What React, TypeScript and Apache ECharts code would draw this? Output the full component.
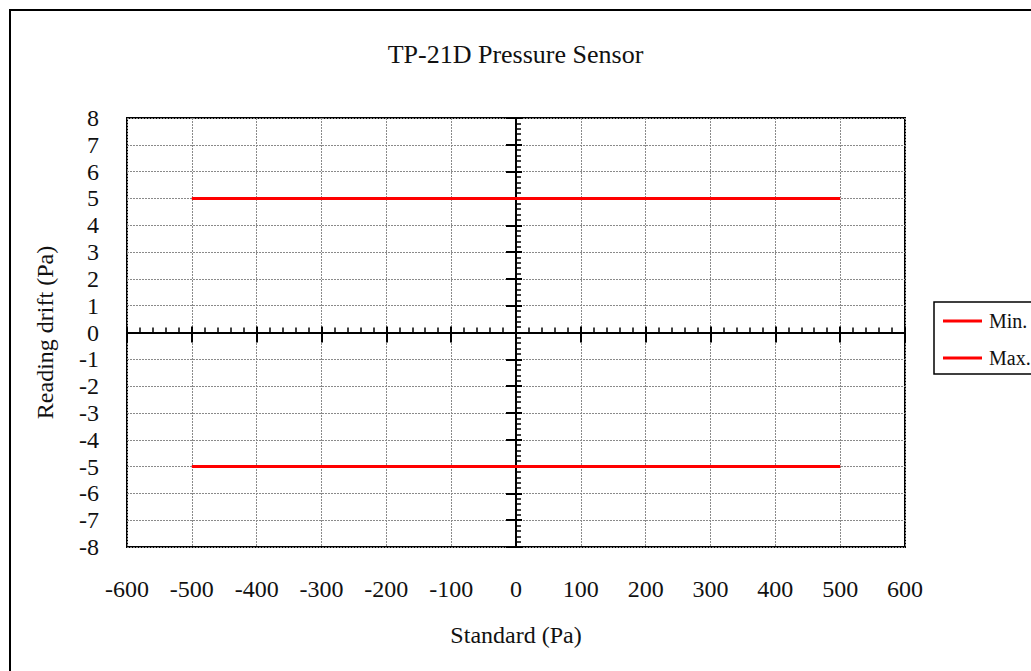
import React, { useEffect, useRef } from "react";
import * as echarts from "echarts";

// ---- data ----
const standardPa = [-500, -400, -300, -200, -100, 0, 100, 200, 300, 400, 500];
const minDrift = [-5, -5, -5, -5, -5, -5, -5, -5, -5, -5, -5];
const maxDrift = [5, 5, 5, 5, 5, 5, 5, 5, 5, 5, 5];
const seriesNames = ["Min.", "Max."];
const xRange = { min: -600, max: 600, step: 100 };
const yRange = { min: -8, max: 8, step: 1 };
const titleText = "TP-21D Pressure Sensor";
const xName = "Standard (Pa)";
const yName = "Reading drift (Pa)";

const FONT = "'Liberation Serif', 'Times New Roman', serif";
const TXT = "#111";

function buildOption() {
  const gridLine = { show: true, lineStyle: { color: "#8a8a8a", width: 1, type: [2, 1] as any } };
  const baseX = { type: "value", min: xRange.min, max: xRange.max, interval: xRange.step, gridIndex: 0 };
  const baseY = { type: "value", min: yRange.min, max: yRange.max, interval: yRange.step, gridIndex: 0 };
  const hidden = { show: false };

  const xAxes: any[] = [
    {
      ...baseX,
      position: "bottom",
      axisLine: { show: false, onZero: false },
      axisTick: hidden,
      splitLine: gridLine,
      axisLabel: { margin: 30, fontFamily: FONT, fontSize: 24, color: TXT },
      name: xName,
      nameLocation: "middle",
      nameGap: 76,
      nameTextStyle: { fontFamily: FONT, fontSize: 24, color: TXT },
    },
    {
      ...baseX,
      position: "bottom",
      axisLine: { show: true, onZero: true, onZeroAxisIndex: 0, lineStyle: { color: "#000", width: 2 } },
      axisTick: { show: true, inside: true, length: 6, lineStyle: { color: "#000", width: 2 } },
      minorTick: { show: true, splitNumber: 5, length: 5, lineStyle: { color: "#000", width: 1.5 } },
      axisLabel: hidden,
      splitLine: hidden,
    },
    {
      ...baseX,
      position: "bottom",
      axisLine: { show: false, onZero: true, onZeroAxisIndex: 0 },
      axisTick: { show: true, inside: false, length: 10, lineStyle: { color: "#000", width: 2 } },
      axisLabel: hidden,
      splitLine: hidden,
    },
  ];

  const yAxes: any[] = [
    {
      ...baseY,
      position: "left",
      axisLine: { show: false, onZero: false },
      axisTick: hidden,
      splitLine: gridLine,
      axisLabel: { margin: 28, fontFamily: FONT, fontSize: 24, color: TXT },
      name: yName,
      nameLocation: "middle",
      nameGap: 70,
      nameTextStyle: { fontFamily: FONT, fontSize: 24, color: TXT },
    },
    {
      ...baseY,
      position: "left",
      axisLine: { show: true, onZero: true, onZeroAxisIndex: 0, lineStyle: { color: "#000", width: 2 } },
      axisTick: { show: true, inside: true, length: 6, lineStyle: { color: "#000", width: 2 } },
      minorTick: { show: true, splitNumber: 5, length: 5, lineStyle: { color: "#000", width: 1.5 } },
      axisLabel: hidden,
      splitLine: hidden,
    },
    {
      ...baseY,
      position: "left",
      axisLine: { show: false, onZero: true, onZeroAxisIndex: 0 },
      axisTick: { show: true, inside: false, length: 10, lineStyle: { color: "#000", width: 2 } },
      axisLabel: hidden,
      splitLine: hidden,
    },
  ];

  const mkSeries = (name: string, vals: number[]) => ({
    name,
    type: "line",
    xAxisIndex: 0,
    yAxisIndex: 0,
    symbol: "none",
    data: standardPa.map((x, i) => [x, vals[i]]),
    lineStyle: { color: "#ff0000", width: 3 },
    itemStyle: { color: "#ff0000" },
    z: 5,
  });

  return {
    animation: false,
    backgroundColor: "#fff",
    title: {
      text: titleText,
      left: "center",
      top: 41,
      padding: 0,
      textStyle: { fontFamily: FONT, fontSize: 26, fontWeight: "normal", color: TXT },
    },
    legend: {
      orient: "vertical",
      left: 934,
      top: 302,
      padding: [9, 30, 6, 9],
      icon: "rect",
      itemWidth: 39,
      itemHeight: 3,
      itemGap: 17,
      itemStyle: { color: "#ff0000", borderWidth: 0 },
      borderColor: "#000",
      borderWidth: 1.5,
      data: seriesNames,
      textStyle: { fontFamily: FONT, fontSize: 20, color: TXT, lineHeight: 20, padding: [0, 0, 0, 2] },
    },
    grid: {
      left: 127,
      right: 126,
      top: 118,
      bottom: 124,
      show: true,
      borderColor: "#000",
      borderWidth: 2,
      backgroundColor: "transparent",
    },
    graphic: [
      {
        type: "rect",
        shape: { x: 10, y: 10, width: 1060, height: 700 },
        style: { fill: "none", stroke: "#000", lineWidth: 2 },
        silent: true,
        z: 100,
      },
    ],
    xAxis: xAxes,
    yAxis: yAxes,
    series: [mkSeries(seriesNames[0], minDrift), mkSeries(seriesNames[1], maxDrift)],
  };
}

export default function App() {
  const ref = useRef<HTMLDivElement>(null);
  useEffect(() => {
    if (!ref.current) return;
    const chart = echarts.init(ref.current, null, { renderer: "svg" });
    chart.setOption(buildOption() as any);
    return () => chart.dispose();
  }, []);
  return (
    <div
      ref={ref}
      style={{ position: "absolute", left: 0, top: 0, width: 1031, height: 671 }}
    />
  );
}
